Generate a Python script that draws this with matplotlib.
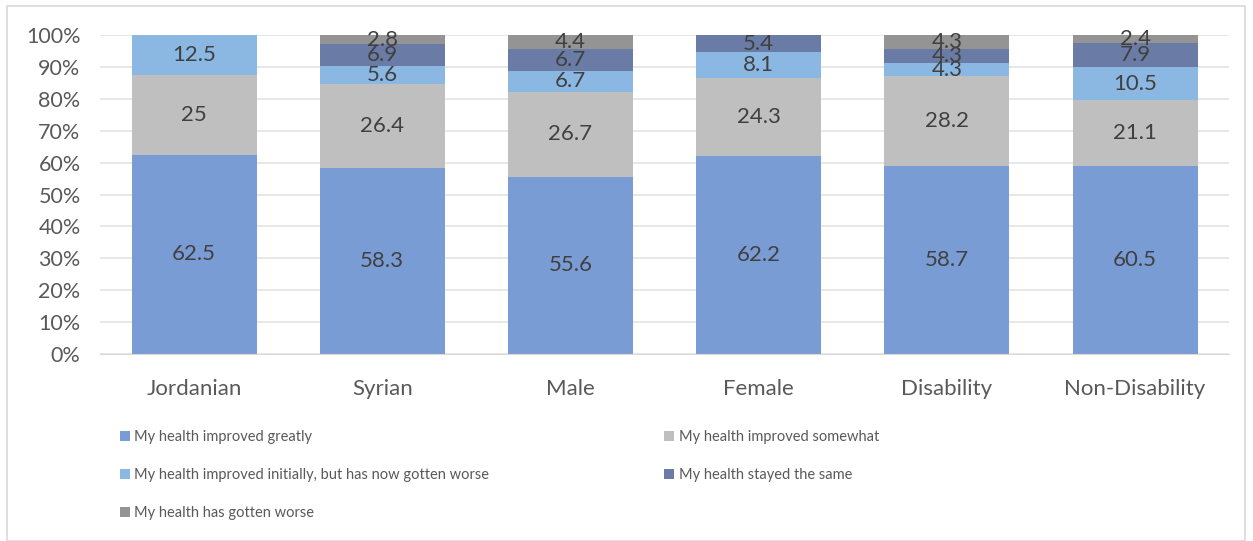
import matplotlib.pyplot as plt
import numpy as np
from matplotlib.patches import Rectangle

plt.rcParams['font.family'] = ['Lato', 'DejaVu Sans']

### Data
categories = ["Jordanian", "Syrian", "Male", "Female", "Disability", "Non-Disability"]
series_names = [
    "My health improved greatly",
    "My health improved somewhat",
    "My health improved initially, but has now gotten worse",
    "My health stayed the same",
    "My health has gotten worse",
]
greatly = [62.5, 58.3, 55.6, 62.2, 58.7, 60.5]
somewhat = [25, 26.4, 26.7, 24.3, 28.2, 21.1]
initially = [12.5, 5.6, 6.7, 8.1, 4.3, 10.5]
same = [0, 6.9, 6.7, 5.4, 4.3, 7.9]
worse = [0, 2.8, 4.4, 0, 4.3, 2.4]

colors = ["#7A9CD5", "#BFBFBF", "#8BB8E2", "#6A7CA5", "#949494"]

values = np.array([greatly, somewhat, initially, same, worse])
# 100% stacked: each column scaled to its own total
totals = values.sum(axis=0)
shares = values / totals * 100

fig = plt.figure(figsize=(12.53, 5.41), dpi=100)
ax = fig.add_axes([0.0798, 0.3457, 0.9012, 0.5893])

x = np.arange(len(categories))
bottom = np.zeros(len(categories))
handles = []
for i in range(len(series_names)):
    bars = ax.bar(x, shares[i], 0.665, bottom=bottom, color=colors[i],
                  label=series_names[i], zorder=2)
    handles.append(bars)
    for j in range(len(categories)):
        if values[i][j] > 0:
            ax.text(x[j], bottom[j] + shares[i][j] / 2, f"{values[i][j]:g}",
                    ha='center', va='center', fontsize=16, color='#404040', zorder=3)
    bottom += shares[i]

ax.set_xlim(-0.5, len(categories) - 0.5)
ax.set_ylim(0, 100)
ax.set_yticks(range(0, 101, 10))
ax.set_yticklabels([f"{t}%" for t in range(0, 101, 10)])
ax.set_xticks(x)
ax.set_xticklabels(categories)
ax.tick_params(axis='both', length=0, labelsize=15.5, labelcolor='#595959')
ax.tick_params(axis='x', labelsize=16, pad=18)
ax.tick_params(axis='y', pad=14)
ax.yaxis.grid(True, color='#E3E3E3', linewidth=1.2, zorder=0)
ax.set_axisbelow(True)
for side in ['top', 'right', 'left']:
    ax.spines[side].set_visible(False)
ax.spines['bottom'].set_color('#D9D9D9')

# legend: row-major order in two columns
order = [0, 2, 4, 1, 3]
ax.legend([handles[k] for k in order], [series_names[k] for k in order],
          ncol=2, loc='upper left', bbox_to_anchor=(0.011, -0.215),
          frameon=False, fontsize=10.5, labelcolor='#595959',
          handlelength=0.7, handleheight=0.7, handletextpad=0.3,
          columnspacing=12.0, labelspacing=1.65, borderpad=0)

fig.patches.append(Rectangle((7 / 1253, 0.0), 1238 / 1253, 535 / 541,
                             transform=fig.transFigure, fill=False,
                             edgecolor='#D9D9D9', linewidth=1.2))

fig.savefig("out.png", dpi=100)
